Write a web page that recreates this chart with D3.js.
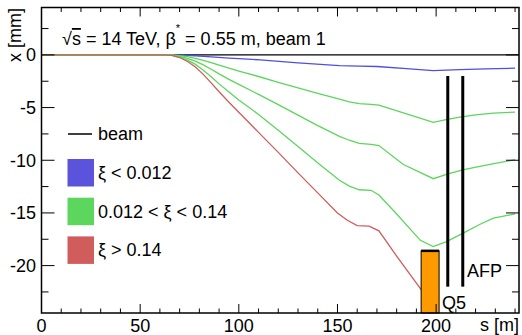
<!DOCTYPE html>
<html>
<head>
<meta charset="utf-8">
<script src="https://cdn.jsdelivr.net/npm/d3@7"></script>
<style>
  body { margin: 0; background: #fff; }
  svg { display: block; }
</style>
</head>
<body>
<div id="chart"></div>
<script>
// trajectories: [s (m), x (mm)]
const beam = [[0, 0], [242, 0]];
const blueXi = [[0, 0], [62, 0], [66, -0.003], [70, -0.02], [78, -0.08], [86, -0.18], [95, -0.3], [100, -0.36],
  [110.8, -0.47], [130, -0.75], [151, -1.01], [161, -1.07], [170, -1.1], [185, -1.3], [198.5, -1.49],
  [212, -1.4], [225, -1.32], [240, -1.26]];
const green1 = [[0, 0], [62, 0], [66, -0.01], [70, -0.07], [74, -0.17], [78, -0.32], [82, -0.52], [86, -0.74],
  [90, -0.98], [95, -1.26], [100, -1.53], [110, -2.05], [120, -2.6], [130, -3.13], [140, -3.66], [151, -4.2],
  [156, -4.45], [161, -4.62], [167, -4.7], [171, -4.76], [185, -5.6], [198.6, -6.41], [205, -6.15],
  [212, -5.9], [220, -5.7], [229, -5.53], [240, -5.43]];
const green2 = [[0, 0], [62, 0], [66, -0.03], [70, -0.13], [74, -0.32], [78, -0.59], [82, -0.95], [86, -1.36],
  [90, -1.8], [95, -2.32], [100, -2.8], [110, -3.75], [120, -4.72], [130, -5.72], [140, -6.72], [151, -7.74],
  [156, -8.1], [161, -8.4], [167, -8.5], [171, -8.6], [183.4, -10.4], [198.6, -11.75], [206, -11.3],
  [214, -10.9], [226, -10.43], [240, -9.95]];
const green3 = [[0, 0], [62, 0], [66, -0.04], [70, -0.2], [74, -0.49], [78, -0.9], [82, -1.45], [86, -2.08],
  [90, -2.75], [95, -3.53], [100, -4.28], [110, -5.65], [120, -7.15], [130, -8.7], [141, -10.4], [151, -11.9],
  [156, -12.45], [161, -12.8], [167, -12.85], [171, -13.3], [180, -15.1], [192, -17.6], [198.5, -18.2],
  [205, -17.75], [214, -16.9], [222, -16.1], [229, -15.5], [240, -15.1]];
const redXi = [[0, 0], [62, 0], [66, -0.05], [70, -0.25], [74, -0.62], [78, -1.15], [82, -1.85], [86, -2.65],
  [90, -3.5], [95, -4.5], [100, -5.45], [110, -7.35], [120, -9.25], [130, -11.2], [140, -13.1], [150, -15.0],
  [155, -15.7], [160, -16.2], [166, -16.25], [171, -16.7], [180, -19.1], [192.5, -22.3]];

// elements along the beam line
const magnet = { s0: 192.4, s1: 201.5, top: -18.6 };   // orange block
const stations = [205.9, 213.5];                       // AFP / Q5 black bars
const stationRange = [-2.0, -22.0];

const xTicks = [0, 50, 100, 150, 200];
const yTicks = [0, -5, -10, -15, -20];

const legendItems = [
  { label: "ξ < 0.012", color: "#5b53db" },
  { label: "0.012 < ξ < 0.14", color: "#5cd65c" },
  { label: "ξ > 0.14", color: "#d15c5c" }
];

const width = 522, height = 335;
const pLeft = 41.5, pRight = 519, pTop = 7.5, pBottom = 313;
const font = "'Liberation Sans', Arial, Helvetica, sans-serif";

const svg = d3.select("#chart").append("svg")
  .attr("width", width)
  .attr("height", height)
  .style("font-family", font);

const x = d3.scaleLinear().domain([0, 242]).range([pLeft, pRight]);
const y = d3.scaleLinear().domain([-24.5, 4.5]).range([pBottom, pTop]);

const line = d3.line().x(d => x(d[0])).y(d => y(d[1]));

// trajectories
svg.append("path").datum(beam).attr("d", line)
  .attr("fill", "none").attr("stroke", "#000").attr("stroke-width", 1.4);

const curves = [
  { data: blueXi, color: "#4f4fe0" },
  { data: green1, color: "#5cd65c" },
  { data: green2, color: "#5cd65c" },
  { data: green3, color: "#5cd65c" },
  { data: redXi, color: "#d15c5c" }
];
svg.append("g").selectAll("path")
  .data(curves)
  .join("path")
  .attr("d", d => line(d.data))
  .attr("fill", "none")
  .attr("stroke", d => d.color)
  .attr("stroke-width", 1.3);

// orange block
svg.append("rect")
  .attr("x", x(magnet.s0))
  .attr("y", y(magnet.top))
  .attr("width", x(magnet.s1) - x(magnet.s0))
  .attr("height", pBottom - y(magnet.top))
  .attr("fill", "#ff9900")
  .attr("stroke", "#000")
  .attr("stroke-width", 1);
svg.append("line")
  .attr("x1", x(magnet.s0)).attr("x2", x(magnet.s1))
  .attr("y1", y(magnet.top)).attr("y2", y(magnet.top))
  .attr("stroke", "#000").attr("stroke-width", 2.5);

svg.append("g").selectAll("line")
  .data(stations)
  .join("line")
  .attr("x1", d => x(d)).attr("x2", d => x(d))
  .attr("y1", y(stationRange[0])).attr("y2", y(stationRange[1]))
  .attr("stroke", "#000")
  .attr("stroke-width", 3);

svg.append("text").attr("x", 442).attr("y", 309).attr("font-size", 18).text("Q5");
svg.append("text").attr("x", 467).attr("y", 277).attr("font-size", 18).text("AFP");

// frame and ticks (mirrored on all four sides)
svg.append("rect")
  .attr("x", pLeft).attr("y", pTop)
  .attr("width", pRight - pLeft).attr("height", pBottom - pTop)
  .attr("fill", "none").attr("stroke", "#000").attr("stroke-width", 1.5);

const ticks = svg.append("g").attr("stroke", "#000").attr("stroke-width", 1);
d3.range(0, 250, 10).filter(v => v <= 242).forEach(v => {
  const len = v % 50 === 0 ? 9 : 4.5;
  ticks.append("line").attr("x1", x(v)).attr("x2", x(v)).attr("y1", pBottom).attr("y2", pBottom - len);
  ticks.append("line").attr("x1", x(v)).attr("x2", x(v)).attr("y1", pTop).attr("y2", pTop + len);
});
d3.range(-22.5, 4.6, 2.5).forEach(v => {
  const len = Math.abs(v % 5) < 0.01 ? 13 : 7;
  ticks.append("line").attr("x1", pLeft).attr("x2", pLeft + len).attr("y1", y(v)).attr("y2", y(v));
  ticks.append("line").attr("x1", pRight).attr("x2", pRight - len).attr("y1", y(v)).attr("y2", y(v));
});

svg.append("g").selectAll("text")
  .data(xTicks)
  .join("text")
  .attr("x", d => x(d))
  .attr("y", 332)
  .attr("text-anchor", "middle")
  .attr("font-size", 18)
  .text(d => d);

svg.append("g").selectAll("text")
  .data(yTicks)
  .join("text")
  .attr("x", 36)
  .attr("y", d => y(d))
  .attr("dy", "0.36em")
  .attr("text-anchor", "end")
  .attr("font-size", 18)
  .text(d => d);

svg.append("text")
  .attr("x", 519).attr("y", 331)
  .attr("text-anchor", "end")
  .attr("font-size", 18)
  .text("s [m]");

svg.append("text")
  .attr("transform", "translate(21,8) rotate(-90)")
  .attr("text-anchor", "end")
  .attr("font-size", 18)
  .text("x [mm]");

// header
const title = svg.append("text").attr("x", 62).attr("y", 45).attr("font-size", 18);
title.append("tspan").text("√");
title.append("tspan").style("text-decoration", "overline").text("s");
title.append("tspan").text(" = 14 TeV, β");
title.append("tspan").attr("dy", -13).attr("font-size", 11).text("*");
title.append("tspan").attr("dy", 13).text(" = 0.55 m, beam 1");

// legend
svg.append("line")
  .attr("x1", 68).attr("x2", 92).attr("y1", 134).attr("y2", 134)
  .attr("stroke", "#000").attr("stroke-width", 1.5);
svg.append("text").attr("x", 98).attr("y", 134).attr("dy", "0.36em").attr("font-size", 18).text("beam");

const legend = svg.append("g");
legend.selectAll("rect")
  .data(legendItems)
  .join("rect")
  .attr("x", 67.5)
  .attr("y", (d, i) => 159 + i * 38.7)
  .attr("width", 26.5)
  .attr("height", 27.5)
  .attr("fill", d => d.color);
legend.selectAll("text")
  .data(legendItems)
  .join("text")
  .attr("x", 98)
  .attr("y", (d, i) => 172.5 + i * 38.7)
  .attr("dy", "0.36em")
  .attr("font-size", 18)
  .text(d => d.label);
</script>
</body>
</html>
